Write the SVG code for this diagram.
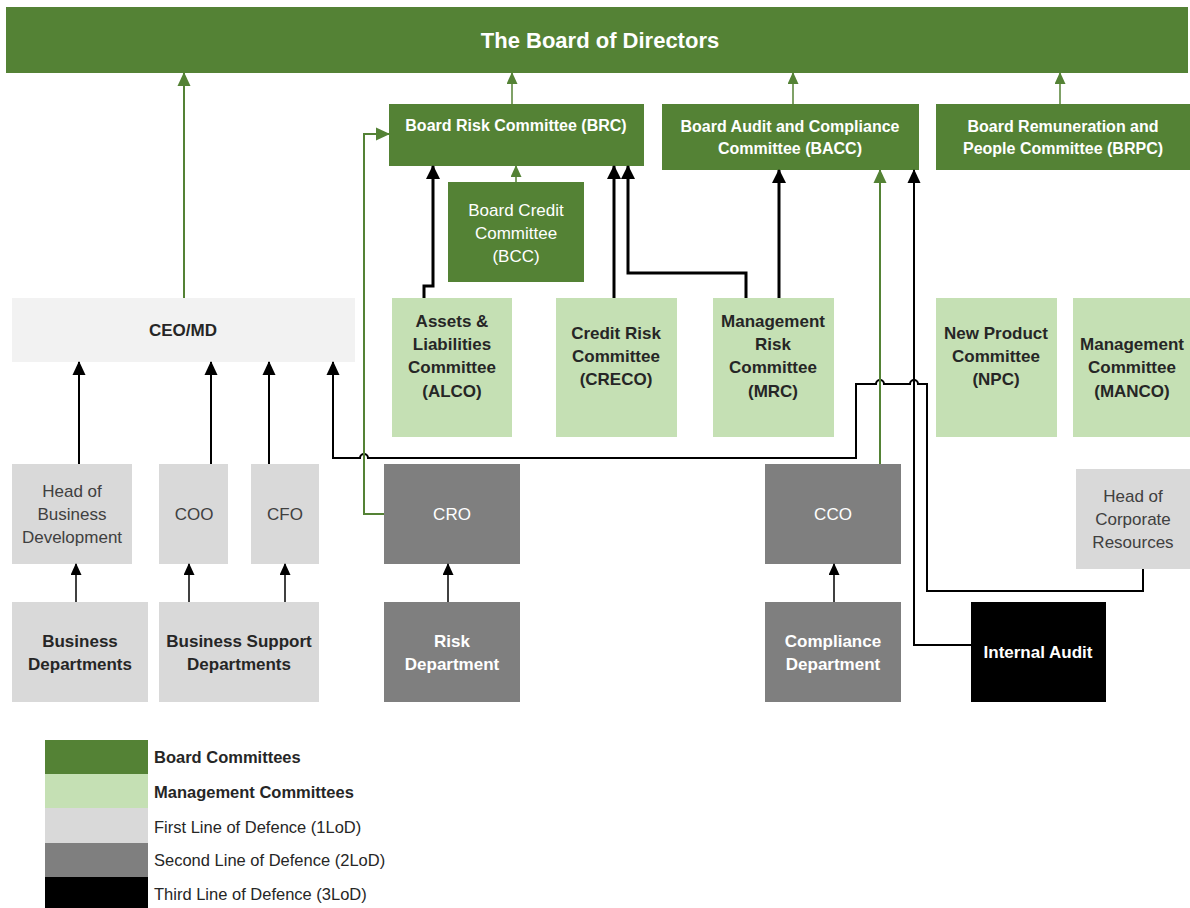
<svg xmlns="http://www.w3.org/2000/svg" width="1190" height="908" viewBox="0 0 1190 908">
<style>
text{font-family:"Liberation Sans",Arial,sans-serif;dominant-baseline:central;text-anchor:middle}
.bc{fill:#548235}
.mc{fill:#c5e0b4}
.l1{fill:#d9d9d9}
.l2{fill:#7f7f7f}
.l3{fill:#000}
.ceo{fill:#f2f2f2}
.tw{fill:#fff;font-size:16px;font-weight:bold}
.twr{fill:#fff;font-size:17px}
.twb{fill:#fff;font-size:17px;font-weight:bold}
.tdb{fill:#262626;font-size:17px;font-weight:bold}
.tdr{fill:#404040;font-size:17px}
.lg{fill:#262626;font-size:16.5px;text-anchor:start}
.lgb{fill:#262626;font-size:16.5px;font-weight:bold;text-anchor:start}
.g{fill:none;stroke:#548235;stroke-width:2}
.gt{fill:none;stroke:#548235;stroke-width:1.5}
.k3{fill:none;stroke:#000;stroke-width:3}
.k2{fill:none;stroke:#000;stroke-width:2}
.k1{fill:none;stroke:#000;stroke-width:1.5}
</style>
<defs>
<marker id="ab" markerUnits="userSpaceOnUse" markerWidth="14" markerHeight="14" refX="13" refY="7" orient="auto"><path d="M0,0L14,7L0,14z" fill="#000"/></marker>
<marker id="am" markerUnits="userSpaceOnUse" markerWidth="14" markerHeight="14" refX="13" refY="7" orient="auto"><path d="M0,0.5L14,7L0,13.5z" fill="#000"/></marker>
<marker id="as" markerUnits="userSpaceOnUse" markerWidth="12" markerHeight="11" refX="11" refY="5.5" orient="auto"><path d="M0,0L12,5.5L0,11z" fill="#000"/></marker>
<marker id="ag" markerUnits="userSpaceOnUse" markerWidth="12" markerHeight="11" refX="11" refY="5.5" orient="auto"><path d="M0,0L12,5.5L0,11z" fill="#548235"/></marker>
<marker id="agb" markerUnits="userSpaceOnUse" markerWidth="14" markerHeight="14" refX="13" refY="7" orient="auto"><path d="M0,0.5L14,7L0,13.5z" fill="#548235"/></marker>
</defs>
<rect width="1190" height="908" fill="#fff"/>

<g id="board"><rect class="bc" x="6" y="7" width="1182" height="66"/><text class="tw" x="600" y="40" style="font-size:22px">The Board of Directors</text></g>
<g id="brc"><rect class="bc" x="389" y="104" width="255" height="62"/><text class="tw" x="516" y="125">Board Risk Committee (BRC)</text></g>
<g id="bacc"><rect class="bc" x="662" y="104" width="257" height="66"/><text class="tw" x="790" y="126">Board Audit and Compliance</text><text class="tw" x="790" y="148">Committee (BACC)</text></g>
<g id="brpc"><rect class="bc" x="936" y="104" width="254" height="66"/><text class="tw" x="1063" y="126">Board Remuneration and</text><text class="tw" x="1063" y="148">People Committee (BRPC)</text></g>
<g id="bcc"><rect class="bc" x="448" y="182" width="136" height="100"/><text class="twr" x="516" y="210">Board Credit</text><text class="twr" x="516" y="233">Committee</text><text class="twr" x="516" y="256">(BCC)</text></g>
<g id="ceo"><rect class="ceo" x="12" y="298" width="343" height="64"/><text class="tdb" x="183" y="330">CEO/MD</text></g>
<g id="alco"><rect class="mc" x="392" y="298" width="120" height="139"/><text class="tdb" x="452" y="321">Assets &amp;</text><text class="tdb" x="452" y="344">Liabilities</text><text class="tdb" x="452" y="367">Committee</text><text class="tdb" x="452" y="391">(ALCO)</text></g>
<g id="creco"><rect class="mc" x="556" y="298" width="121" height="139"/><text class="tdb" x="616" y="333">Credit Risk</text><text class="tdb" x="616" y="356">Committee</text><text class="tdb" x="616" y="379">(CRECO)</text></g>
<g id="mrc"><rect class="mc" x="713" y="298" width="121" height="139"/><text class="tdb" x="773" y="321">Management</text><text class="tdb" x="773" y="344">Risk</text><text class="tdb" x="773" y="367">Committee</text><text class="tdb" x="773" y="391">(MRC)</text></g>
<g id="npc"><rect class="mc" x="936" y="298" width="121" height="139"/><text class="tdb" x="996" y="333">New Product</text><text class="tdb" x="996" y="356">Committee</text><text class="tdb" x="996" y="379">(NPC)</text></g>
<g id="manco"><rect class="mc" x="1073" y="298" width="117" height="139"/><text class="tdb" x="1132" y="344">Management</text><text class="tdb" x="1132" y="367">Committee</text><text class="tdb" x="1132" y="391">(MANCO)</text></g>
<g id="hbd"><rect class="l1" x="12" y="464" width="120" height="100"/><text class="tdr" x="72" y="491">Head of</text><text class="tdr" x="72" y="514">Business</text><text class="tdr" x="72" y="537">Development</text></g>
<g id="coo"><rect class="l1" x="159" y="464" width="69" height="100"/><text class="tdr" x="194" y="514">COO</text></g>
<g id="cfo"><rect class="l1" x="251" y="464" width="68" height="100"/><text class="tdr" x="285" y="514">CFO</text></g>
<g id="cro"><rect class="l2" x="384" y="464" width="136" height="100"/><text class="twr" x="452" y="514">CRO</text></g>
<g id="cco"><rect class="l2" x="765" y="464" width="136" height="100"/><text class="twr" x="833" y="514">CCO</text></g>
<g id="hcr"><rect class="l1" x="1076" y="469" width="114" height="100"/><text class="tdr" x="1133" y="496">Head of</text><text class="tdr" x="1133" y="519">Corporate</text><text class="tdr" x="1133" y="542">Resources</text></g>
<g id="bd"><rect class="l1" x="12" y="602" width="136" height="100"/><text class="tdb" x="80" y="641">Business</text><text class="tdb" x="80" y="664">Departments</text></g>
<g id="bsd"><rect class="l1" x="159" y="602" width="160" height="100"/><text class="tdb" x="239" y="641">Business Support</text><text class="tdb" x="239" y="664">Departments</text></g>
<g id="riskdept"><rect class="l2" x="384" y="602" width="136" height="100"/><text class="twb" x="452" y="641">Risk</text><text class="twb" x="452" y="664">Department</text></g>
<g id="compdept"><rect class="l2" x="765" y="602" width="136" height="100"/><text class="twb" x="833" y="641">Compliance</text><text class="twb" x="833" y="664">Department</text></g>
<g id="ia"><rect class="l3" x="971" y="602" width="135" height="100"/><text class="twb" x="1038" y="652">Internal Audit</text></g>

<g id="connectors">
<path class="g" d="M184,298V73" marker-end="url(#agb)"/>
<path class="gt" d="M512,104V73" marker-end="url(#ag)"/>
<path class="gt" d="M793,104V73" marker-end="url(#ag)"/>
<path class="gt" d="M1060,104V73" marker-end="url(#ag)"/>
<path class="gt" d="M516,182V166" marker-end="url(#ag)"/>
<path class="k3" d="M424,298V286H433V166" marker-end="url(#ab)"/>
<path class="k3" d="M614,298V166" marker-end="url(#ab)"/>
<path class="k3" d="M746,298V273H628V166" marker-end="url(#ab)"/>
<path class="k3" d="M779,298V170" marker-end="url(#ab)"/>
<path class="k2" d="M79,464V362" marker-end="url(#am)"/>
<path class="k2" d="M211,464V362" marker-end="url(#am)"/>
<path class="k2" d="M269,464V362" marker-end="url(#am)"/>
<path class="k2" d="M1143,569V591H927V384H918a4,4 0 0 0 -8,0H884a4,4 0 0 0 -8,0H856V458H368a4,4 0 0 0 -8,0H333V362" marker-end="url(#am)"/>
<path class="k2" d="M971,645H914V170" marker-end="url(#am)"/>
<path class="g" d="M880,464V170" marker-end="url(#agb)"/>
<path class="g" d="M384,514H364V134H389" marker-end="url(#agb)"/>
<path class="k1" d="M76,602V564" marker-end="url(#as)"/>
<path class="k1" d="M189,602V564" marker-end="url(#as)"/>
<path class="k1" d="M285,602V564" marker-end="url(#as)"/>
<path class="k1" d="M448,602V564" marker-end="url(#as)"/>
<path class="k1" d="M834,602V564" marker-end="url(#as)"/>
</g>

<g id="legend">
<rect class="bc" x="45" y="740" width="103" height="34"/>
<rect class="mc" x="45" y="774" width="103" height="34"/>
<rect class="l1" x="45" y="808" width="103" height="35"/>
<rect class="l2" x="45" y="843" width="103" height="34"/>
<rect class="l3" x="45" y="877" width="103" height="31"/>
<text class="lgb" x="154" y="757">Board Committees</text>
<text class="lgb" x="154" y="792">Management Committees</text>
<text class="lg" x="154" y="827">First Line of Defence (1LoD)</text>
<text class="lg" x="154" y="860">Second Line of Defence (2LoD)</text>
<text class="lg" x="154" y="894">Third Line of Defence (3LoD)</text>
</g>
</svg>
